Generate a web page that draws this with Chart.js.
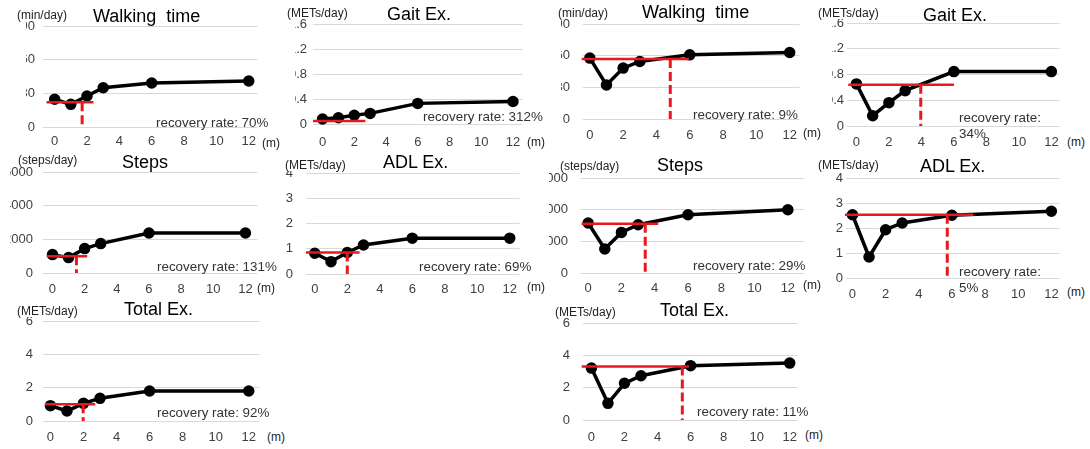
<!DOCTYPE html>
<html lang="en">
<head>
<meta charset="UTF-8">
<title>Recovery of physical activity</title>
<script src="https://cdn.jsdelivr.net/npm/chart.js"></script>
<style>
    body {
        margin: 0;
        width: 1090px;
        height: 449px;
        position: relative;
        overflow: hidden;
        background: #fff;
        font-family: "Liberation Sans", Arial, sans-serif;
    }
    canvas.panel { position: absolute; }
    .txt {
        position: absolute;
        white-space: pre;
        line-height: 1.2;
        transform: translateY(-50%);
        color: #222;
        z-index: 2;
    }
    .title { font-size: 18px; color: #000; }
    .unit { font-size: 12px; line-height: 1; background: #fff; }
    .mon { font-size: 12px; }
    .rate { font-size: 13.4px; color: #333; }
    .rate.wrap { white-space: pre-line; }
</style>
</head>
<body>
<script>
const months = [0, 1, 2, 3, 6, 12];
const monthTicks = [0, 2, 4, 6, 8, 10, 12];

// walking, gait, steps, ADL, total
const titles = ['Walking  time', 'Gait Ex.', 'Steps', 'ADL Ex.', 'Total Ex.'];
const units = ['(min/day)', '(METs/day)', '(steps/day)', '(METs/day)', '(METs/day)'];
const yTicks = [
    [0, 30, 60, 90],
    [0, 0.4, 0.8, 1.2, 1.6],
    [0, 2000, 4000, 6000],
    [0, 1, 2, 3, 4],
    [0, 2, 4, 6]
];

// left group
const leftWalking = [24.7, 20.2, 27.6, 35.0, 39.2, 41.0];
const leftGait = [0.08, 0.10, 0.14, 0.17, 0.33, 0.36];
const leftSteps = [1093, 915, 1449, 1746, 2376, 2376];
const leftAdl = [0.82, 0.49, 0.85, 1.15, 1.42, 1.42];
const leftTotal = [0.92, 0.60, 1.06, 1.36, 1.80, 1.80];
const leftBaseline = [22, 0.05, 992, 0.85, 1.0];
const leftBaseSpan = [[-0.5, 2.4], [-0.6, 2.7], [-0.36, 2.16], [-0.54, 2.76], [-0.34, 2.71]];
const leftRecovery = [1.7, null, 1.49, 2.0, 1.98];
const leftRate = ['70%', '312%', '131%', '69%', '92%'];

// right group
const rightWalking = [57.7, 32.3, 48.2, 54.5, 60.8, 63.0];
const rightGait = [0.654, 0.160, 0.363, 0.549, 0.845, 0.845];
const rightSteps = [3158, 1516, 2564, 3051, 3682, 3998];
const rightAdl = [2.53, 0.84, 1.93, 2.20, 2.51, 2.67];
const rightTotal = [3.21, 1.03, 2.27, 2.74, 3.36, 3.52];
const rightBaseline = [56.8, 0.639, 3114, 2.53, 3.31];
const rightBaseSpan = [[-0.49, 5.95], [-0.5, 6.0], [-0.39, 4.21], [-0.45, 7.3], [-0.59, 5.9]];
const rightRecovery = [4.83, 3.96, 3.43, 5.72, 5.5];
const rightRate = ['9%', '34%', '29%', '5%', '11%'];

const FONT = '"Liberation Sans", Arial, sans-serif';
const RED = '#e8191c';

// placement of each small panel on the page (layout only)
const panels = [
    { g: 'L', k: 0, clip: 26,  gl: 43,  gr: 263,  top: 26,  zero: 127, xmin: -0.72, xmax: 12.54, yPad: 8,  xPad: 7,
      title: [93, 17], unit: [17, 15], mon: [262, 143], rate: [156, 123] },
    { g: 'L', k: 1, clip: 295, gl: 313, gr: 528,  top: 24,  zero: 124, xmin: -0.6,  xmax: 12.6,  yPad: 6,  xPad: 11,
      title: [387, 15], unit: [287, 13], mon: [527, 141.7], rate: [423, 117] },
    { g: 'R', k: 0, clip: 561, gl: 583, gr: 805,  top: 24,  zero: 119, xmin: -0.41, xmax: 12.59, yPad: 13, xPad: 9,
      title: [642, 13.3], unit: [558, 13], mon: [803, 133], rate: [693, 115] },
    { g: 'R', k: 1, clip: 832, gl: 847, gr: 1065, top: 23,  zero: 126, xmin: -0.58, xmax: 12.5,  yPad: 3,  xPad: 9,
      title: [923, 16], unit: [818, 12.7], mon: [1067, 141.7], rate: [959, 125.5], wrap: true },
    { g: 'L', k: 2, clip: 10,  gl: 43,  gr: 263,  top: 172, zero: 273, xmin: -0.59, xmax: 12.75, yPad: 10, xPad: 9,
      title: [122, 162.7], unit: [18, 160], mon: [257, 288.3], rate: [157, 266.7] },
    { g: 'L', k: 3, clip: 286, gl: 306, gr: 525,  top: 173, zero: 274, xmin: -0.54, xmax: 12.6,  yPad: 13, xPad: 8,
      title: [383, 163.3], unit: [285, 165], mon: [527, 286.7], rate: [419, 267.3] },
    { g: 'R', k: 2, clip: 549, gl: 580, gr: 810,  top: 178, zero: 273, xmin: -0.49, xmax: 13.0,  yPad: 12, xPad: 8,
      title: [657, 166], unit: [560, 166], mon: [803, 285], rate: [693, 266] },
    { g: 'R', k: 3, clip: 826, gl: 846, gr: 1065, top: 178, zero: 278, xmin: -0.39, xmax: 12.49, yPad: 3,  xPad: 9,
      title: [920, 166.7], unit: [818, 165], mon: [1067, 291.7], rate: [959, 280], wrap: true },
    { g: 'L', k: 4, clip: 17,  gl: 43,  gr: 265,  top: 321, zero: 421, xmin: -0.45, xmax: 12.65, yPad: 10, xPad: 9,
      title: [124, 310], unit: [17, 311], mon: [267, 436.7], rate: [157, 413.3] },
    { g: 'R', k: 4, clip: 555, gl: 583, gr: 803,  top: 323, zero: 420, xmin: -0.51, xmax: 12.47, yPad: 13, xPad: 10,
      title: [660, 311], unit: [555, 312.3], mon: [805, 435], rate: [697, 412.3] }
];

const groups = {
    L: { series: [leftWalking, leftGait, leftSteps, leftAdl, leftTotal], base: leftBaseline,
         span: leftBaseSpan, rec: leftRecovery, rate: leftRate },
    R: { series: [rightWalking, rightGait, rightSteps, rightAdl, rightTotal], base: rightBaseline,
         span: rightBaseSpan, rec: rightRecovery, rate: rightRate }
};

function addText(cls, text, pos) {
    const d = document.createElement('div');
    d.className = 'txt ' + cls;
    d.textContent = text;
    d.style.left = pos[0] + 'px';
    d.style.top = pos[1] + 'px';
    document.body.appendChild(d);
}

const AXIS_H = 26;
const TOP_PAD = 10;

panels.forEach(p => {
    const grp = groups[p.g];
    const vals = grp.series[p.k];
    const base = grp.base[p.k];
    const span = grp.span[p.k];
    const rec = grp.rec[p.k];
    const ticks = yTicks[p.k];

    const cv = document.createElement('canvas');
    cv.className = 'panel';
    const w = p.gr + 2 - p.clip;
    const h = p.zero + AXIS_H - (p.top - TOP_PAD);
    cv.width = w;
    cv.height = h;
    cv.style.left = p.clip + 'px';
    cv.style.top = (p.top - TOP_PAD) + 'px';
    document.body.appendChild(cv);

    const datasets = [
        {
            data: months.map((m, i) => ({ x: m, y: vals[i] })),
            showLine: true,
            borderColor: '#000',
            borderWidth: 3.5,
            pointRadius: 4,
            pointBackgroundColor: '#000',
            pointBorderColor: '#000',
            clip: false,
            order: 3
        },
        {
            data: [{ x: span[0], y: base }, { x: span[1], y: base }],
            showLine: true,
            borderColor: RED,
            borderWidth: 2.5,
            pointRadius: 0,
            clip: false,
            order: 1
        }
    ];
    if (rec !== null) {
        datasets.push({
            data: [{ x: rec, y: base }, { x: rec, y: 0 }],
            showLine: true,
            borderColor: RED,
            borderWidth: 3,
            borderDash: [9, 4],
            pointRadius: 0,
            clip: false,
            order: 2
        });
    }

    new Chart(cv, {
        type: 'scatter',
        data: { datasets },
        options: {
            responsive: false,
            animation: false,
            events: [],
            layout: { padding: { top: TOP_PAD, right: 2, left: 0, bottom: 0 } },
            plugins: { legend: { display: false }, tooltip: { enabled: false } },
            scales: {
                x: {
                    type: 'linear',
                    min: p.xmin,
                    max: p.xmax,
                    grid: { display: false, drawTicks: false },
                    border: { display: false },
                    afterBuildTicks: s => { s.ticks = monthTicks.map(v => ({ value: v })); },
                    afterFit: s => { s.height = AXIS_H; s.paddingLeft = 0; s.paddingRight = 0; },
                    ticks: {
                        padding: p.xPad,
                        color: '#404040',
                        maxRotation: 0,
                        autoSkip: false,
                        font: { family: FONT, size: 13 },
                        callback: v => String(v)
                    }
                },
                y: {
                    type: 'linear',
                    min: 0,
                    max: ticks[ticks.length - 1],
                    grid: { color: '#d9d9d9', lineWidth: 1, drawTicks: false },
                    border: { display: false },
                    afterBuildTicks: s => { s.ticks = ticks.map(v => ({ value: v })); },
                    afterFit: s => { s.width = p.gl - p.clip; s.paddingTop = 0; s.paddingBottom = 0; },
                    ticks: {
                        padding: p.yPad,
                        color: '#404040',
                        font: { family: FONT, size: 13 },
                        callback: v => String(v)
                    }
                }
            }
        }
    });

    addText('title', titles[p.k], p.title);
    addText('unit', units[p.k], p.unit);
    addText('mon', '(m)', p.mon);
    const rateText = p.wrap ? 'recovery rate:\n' + grp.rate[p.k] : 'recovery rate: ' + grp.rate[p.k];
    addText(p.wrap ? 'rate wrap' : 'rate', rateText, p.rate);
});
</script>
</body>
</html>
